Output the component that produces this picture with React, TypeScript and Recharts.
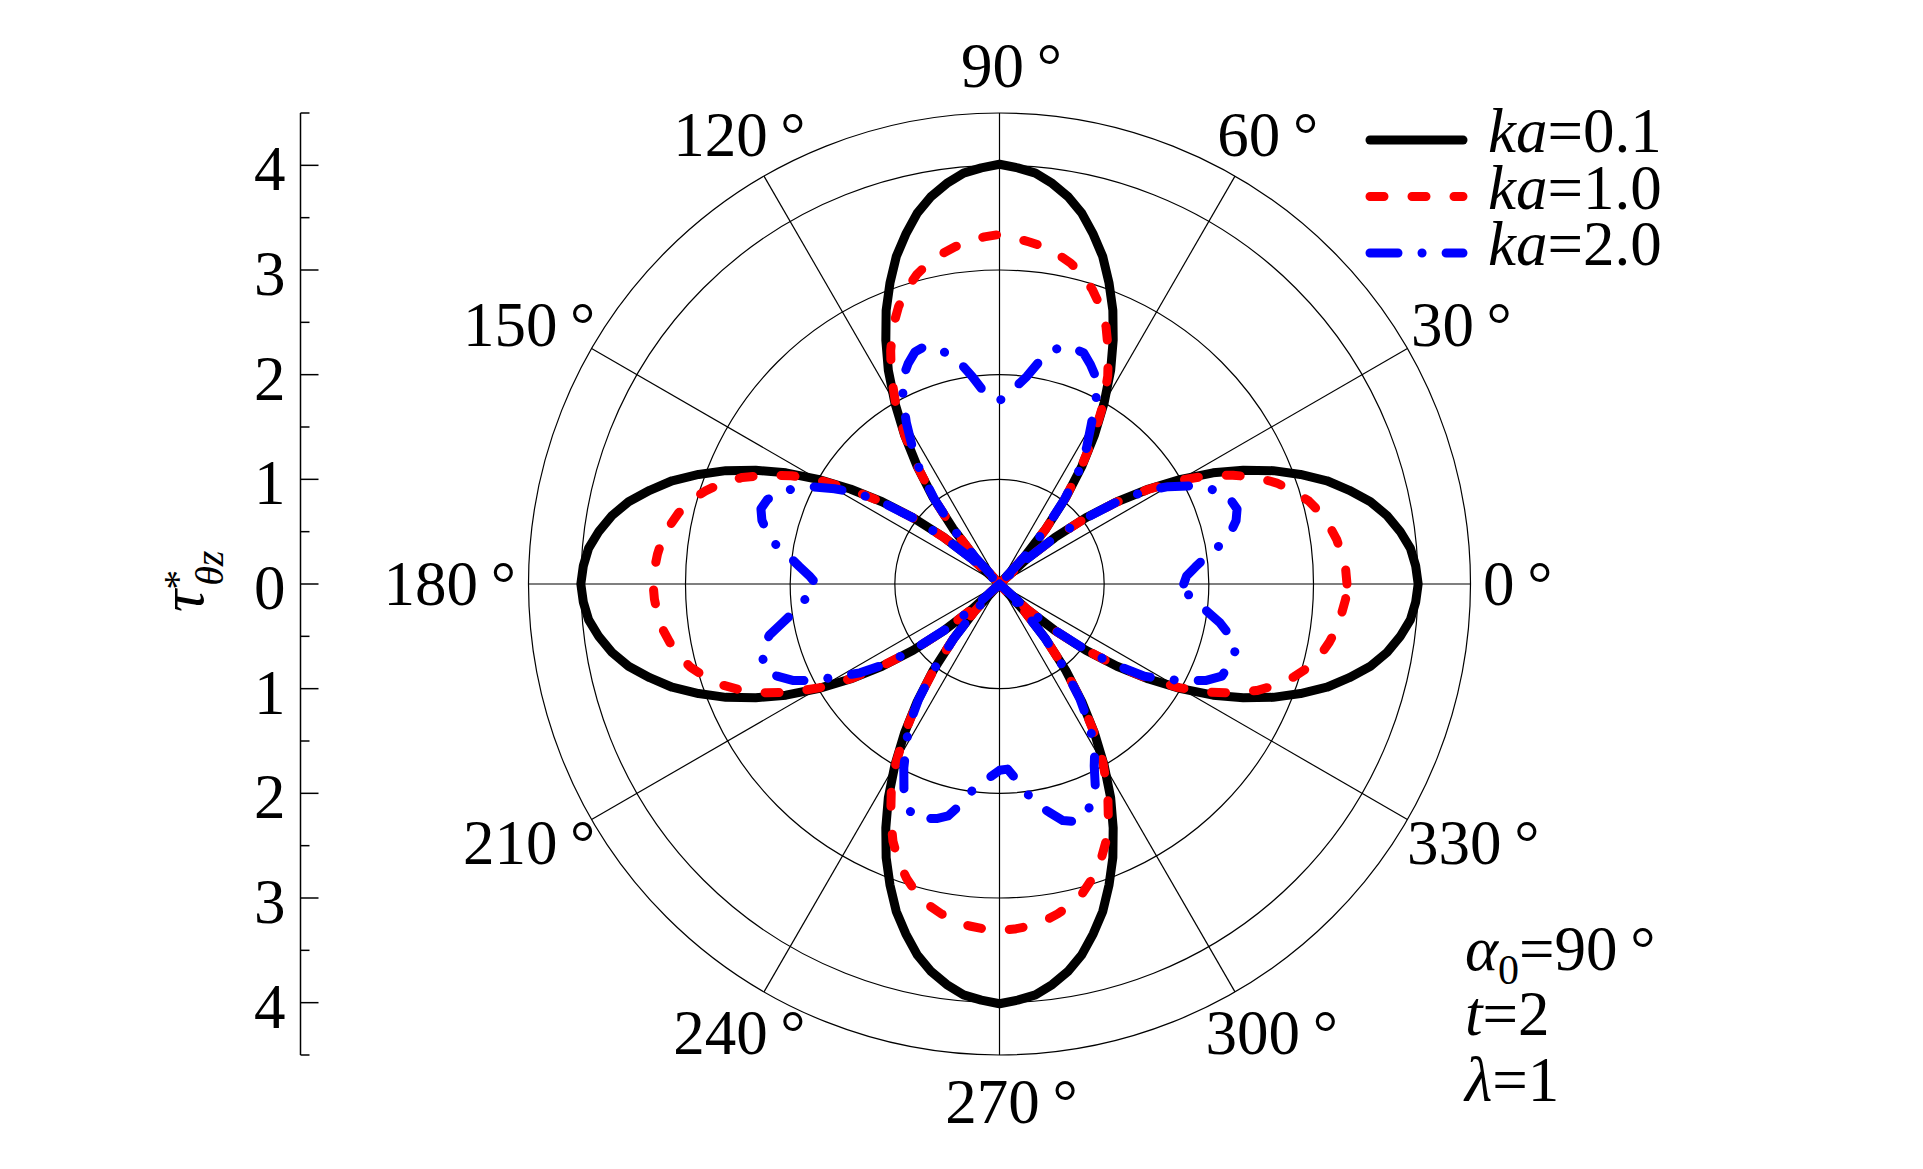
import {
  RadarChart,
  Radar,
  PolarGrid,
  PolarAngleAxis,
  PolarRadiusAxis,
  LineChart,
  Line,
  XAxis,
  YAxis,
  Legend
} from "recharts";

const W = 1923;
const H = 1169;
const CX = 999.5;
const CY = 584;
const R = 471; // radius of the outer circle (4.5)
const RMAX = 4.5;
const DATA_RMAX = 5;
const FONT = '"Liberation Serif", "DejaVu Serif", serif';
const FS = 63;

// angle categories, every 2.5 degrees, counter-clockwise from 0
const angles = Array.from({ length: 144 }, (_, i) => i * 2.5);

// ka = 0.1
const ka01 = [
  4.00, 3.98, 3.94, 3.86, 3.76, 3.63, 3.46, 3.28, 3.06, 2.83, 2.57, 2.30, 2.00, 1.69, 1.37, 1.04, 0.69, 0.35,
  0, 0.35, 0.69, 1.04, 1.37, 1.69, 2.00, 2.30, 2.57, 2.83, 3.06, 3.28, 3.46, 3.63, 3.76, 3.86, 3.94, 3.98,
  4.01, 3.98, 3.94, 3.86, 3.76, 3.63, 3.46, 3.28, 3.06, 2.83, 2.57, 2.30, 2.00, 1.69, 1.37, 1.04, 0.69, 0.35,
  0, 0.35, 0.69, 1.04, 1.37, 1.69, 2.00, 2.30, 2.57, 2.83, 3.06, 3.28, 3.46, 3.63, 3.76, 3.86, 3.94, 3.98,
  4.00, 3.98, 3.94, 3.86, 3.76, 3.63, 3.46, 3.28, 3.06, 2.83, 2.57, 2.30, 2.00, 1.69, 1.37, 1.04, 0.69, 0.35,
  0, 0.35, 0.69, 1.04, 1.37, 1.69, 2.00, 2.30, 2.57, 2.83, 3.06, 3.28, 3.46, 3.63, 3.76, 3.86, 3.94, 3.98,
  4.01, 3.98, 3.94, 3.86, 3.76, 3.63, 3.46, 3.28, 3.06, 2.83, 2.57, 2.30, 2.00, 1.69, 1.37, 1.04, 0.69, 0.35,
  0, 0.35, 0.69, 1.04, 1.37, 1.69, 2.00, 2.30, 2.57, 2.83, 3.06, 3.28, 3.46, 3.63, 3.76, 3.86, 3.94, 3.98
];

// ka = 1.0
const ka10 = [
  3.32, 3.31, 3.28, 3.25, 3.20, 3.14, 3.06, 2.95, 2.82, 2.66, 2.46, 2.24, 1.98, 1.68, 1.36, 1.03, 0.69, 0.35,
  0, 0.35, 0.69, 1.03, 1.36, 1.68, 1.98, 2.24, 2.46, 2.66, 2.82, 2.95, 3.06, 3.14, 3.20, 3.25, 3.28, 3.31,
  3.34, 3.32, 3.29, 3.25, 3.20, 3.14, 3.06, 2.95, 2.82, 2.66, 2.46, 2.24, 1.98, 1.68, 1.36, 1.03, 0.69, 0.35,
  0, 0.35, 0.69, 1.03, 1.36, 1.68, 1.98, 2.24, 2.46, 2.66, 2.82, 2.95, 3.06, 3.14, 3.20, 3.25, 3.28, 3.30,
  3.31, 3.30, 3.28, 3.25, 3.20, 3.14, 3.06, 2.95, 2.82, 2.66, 2.46, 2.24, 1.98, 1.68, 1.36, 1.03, 0.69, 0.35,
  0, 0.35, 0.69, 1.03, 1.36, 1.68, 1.98, 2.24, 2.46, 2.66, 2.82, 2.95, 3.06, 3.14, 3.20, 3.25, 3.28, 3.30,
  3.31, 3.30, 3.28, 3.25, 3.20, 3.14, 3.06, 2.95, 2.82, 2.66, 2.46, 2.24, 1.98, 1.68, 1.36, 1.03, 0.69, 0.35,
  0, 0.35, 0.69, 1.03, 1.36, 1.68, 1.98, 2.24, 2.46, 2.66, 2.82, 2.95, 3.06, 3.14, 3.20, 3.25, 3.28, 3.31
];

// ka = 2.0
const ka20 = [
  1.76, 1.79, 1.88, 1.99, 2.14, 2.26, 2.34, 2.38, 2.35, 2.30, 2.17, 2.03, 1.86, 1.66, 1.36, 1.03, 0.69, 0.35,
  0, 0.34, 0.68, 1.02, 1.33, 1.55, 1.75, 2.00, 2.18, 2.27, 2.35, 2.36, 2.35, 2.28, 2.15, 2.00, 1.90, 1.82,
  1.75, 1.80, 1.86, 2.00, 2.14, 2.25, 2.33, 2.38, 2.36, 2.28, 2.18, 2.00, 1.78, 1.55, 1.33, 1.02, 0.68, 0.34,
  0, 0.34, 0.68, 1.03, 1.35, 1.62, 1.82, 2.01, 2.16, 2.28, 2.36, 2.39, 2.35, 2.27, 2.17, 2.03, 1.92, 1.82,
  1.75, 1.80, 1.88, 1.97, 2.10, 2.25, 2.34, 2.37, 2.39, 2.30, 2.18, 2.00, 1.76, 1.58, 1.34, 1.02, 0.68, 0.34,
  0, 0.34, 0.68, 1.03, 1.35, 1.62, 1.78, 1.98, 2.16, 2.30, 2.38, 2.35, 2.32, 2.27, 2.14, 1.99, 1.90, 1.84,
  1.78, 1.77, 1.88, 2.02, 2.15, 2.24, 2.34, 2.38, 2.37, 2.28, 2.17, 1.96, 1.82, 1.60, 1.34, 1.02, 0.68, 0.34,
  0, 0.34, 0.68, 1.02, 1.34, 1.64, 1.82, 2.00, 2.18, 2.30, 2.32, 2.34, 2.34, 2.25, 2.14, 2.00, 1.88, 1.78
];

const spokeAngles = [0, 30, 60, 90, 120, 150, 180, 210, 240, 270, 300, 330];
const gridRadii = [1, 2, 3, 4, 4.5];
const radialTicks = [-4.5, -4, -3.5, -3, -2.5, -2, -1.5, -1, -0.5, 0, 0.5, 1, 1.5, 2, 2.5, 3, 3.5, 4, 4.5];

const series = [
  { key: "k01", name: "ka=0.1", color: "#000000", dash: undefined },
  { key: "k10", name: "ka=1.0", color: "#ff0000", dash: "14 28" },
  { key: "k20", name: "ka=2.0", color: "#0000ff", dash: "28 24 0.1 24" }
];

const data = angles.map((angle, i) => ({ angle, k01: ka01[i], k10: ka10[i], k20: ka20[i] }));
const axisData = radialTicks.map((v) => ({ v }));

const unit = R / RMAX;

const AngleTick = (props: any) => {
  const a = Number(props.payload?.value);
  if (a % 30 !== 0 || a >= 360) return <g />;
  const rad = (a * Math.PI) / 180;
  const c = Math.cos(rad);
  const s = Math.sin(rad);
  const label = String(a);
  const w = label.length * 31.5 + 33;
  const x = CX + (515 + (w / 2 - 29) * Math.abs(c)) * c + 12 * (1 - Math.abs(c));
  const y = CY - 518 * s;
  return (
    <text x={x} y={y + 21} textAnchor="middle" fontSize={FS} fontFamily={FONT} fill="#000">
      {`${label}\u2009°`}
    </text>
  );
};

const AxisTick = (props: any) => {
  const { x, y, payload } = props;
  const v = Number(payload.value);
  const major = Number.isInteger(v);
  return (
    <g>
      <line x1={x} x2={x + (major ? 18 : 9)} y1={y} y2={y} stroke="#000" strokeWidth={1.5} />
      {major && (
        <text x={x - 15} y={y + 25} textAnchor="end" fontSize={FS} fontFamily={FONT} fill="#000">
          {Math.abs(v)}
        </text>
      )}
    </g>
  );
};

const LegendBox = () => (
  <svg width={340} height={190} style={{ overflow: "visible" }}>
    {series.map((s, i) => {
      const ly = 45 + i * 56.5;
      const [pre, post] = s.name.split("=");
      return (
        <g key={s.key}>
          <line
            x1={18}
            x2={111}
            y1={ly}
            y2={ly}
            stroke={s.color}
            strokeWidth={9}
            strokeLinecap="round"
            strokeDasharray={s.dash}
          />
          <text x={136} y={ly + 12} fontSize={FS} fontFamily={FONT} fill="#000">
            <tspan fontStyle="italic">{pre}</tspan>={post}
          </text>
        </g>
      );
    })}
  </svg>
);

const layer = { position: "absolute" as const, left: 0, top: 0 };

export default function App() {
  return (
    <div style={{ position: "absolute", left: 0, top: 0, width: W, height: H, background: "#fff" }}>
      {/* left linear scale */}
      <div style={layer}>
        <LineChart
          width={420}
          height={H}
          data={axisData}
          margin={{ top: CY - R, bottom: H - (CY + R), left: 0, right: 0 }}
        >
          <XAxis dataKey="v" hide />
          <YAxis
            type="number"
            domain={[-RMAX, RMAX]}
            allowDataOverflow
            ticks={radialTicks}
            interval={0}
            width={300.5}
            tickSize={0}
            tickMargin={0}
            tickLine={false}
            axisLine={{ stroke: "#000", strokeWidth: 1.5 }}
            tick={<AxisTick />}
          />
          <Line dataKey="v" stroke="none" dot={false} isAnimationActive={false} />
        </LineChart>
      </div>
      {/* polar grid and angle labels */}
      <div style={layer}>
        <RadarChart
          width={W}
          height={H}
          cx={CX}
          cy={CY}
          outerRadius={R}
          startAngle={0}
          endAngle={360}
          data={data}
          margin={{ top: 0, right: 0, bottom: 0, left: 0 }}
        >
          <PolarGrid
            gridType="circle"
            polarAngles={spokeAngles}
            polarRadius={gridRadii.map((g) => g * unit)}
            stroke="#000"
            strokeWidth={1.2}
          />
          <PolarAngleAxis
            dataKey="angle"
            type="number"
            domain={[0, 360]}
            tickCount={13}
            tick={<AngleTick />}
            tickLine={false}
            axisLine={false}
          />
        </RadarChart>
      </div>
      {/* curves */}
      <div style={layer}>
        <RadarChart
          width={W}
          height={H}
          cx={CX}
          cy={CY}
          outerRadius={DATA_RMAX * unit}
          startAngle={0}
          endAngle={360}
          data={data}
          margin={{ top: 0, right: 0, bottom: 0, left: 0 }}
        >
          <PolarAngleAxis dataKey="angle" type="number" domain={[0, 360]} tick={false} tickLine={false} axisLine={false} />
          <PolarRadiusAxis
            type="number"
            domain={[0, DATA_RMAX]}
            tickCount={6}
            allowDataOverflow
            tick={false}
            axisLine={false}
          />
          {series.map((s) => (
            <Radar
              key={s.key}
              name={s.name}
              dataKey={s.key}
              stroke={s.color}
              strokeWidth={9}
              strokeLinecap="round"
              strokeLinejoin="round"
              strokeDasharray={s.dash}
              fill="none"
              fillOpacity={0}
              dot={false}
              isAnimationActive={false}
            />
          ))}
          <Legend content={<LegendBox />} wrapperStyle={{ left: 1352, top: 95, width: 340 }} />
        </RadarChart>
      </div>
      <svg
        width={W}
        height={H}
        style={{ position: "absolute", left: 0, top: 0, pointerEvents: "none" }}
        fontFamily={FONT}
      >
        <text transform="rotate(-90)" x={-612} y={203} fontSize={62} fill="#000">
          <tspan fontStyle="italic">τ</tspan>
          <tspan fontSize={40} dy={-12}>*</tspan>
          <tspan fontSize={40} fontStyle="italic" dx={-16} dy={32}>θz</tspan>
        </text>
        <text x={1465} y={970} fontSize={FS} fill="#000">
          <tspan fontStyle="italic">α</tspan>
          <tspan fontSize={42} dy={14}>0</tspan>
          <tspan dy={-14}>{"=90\u2009°"}</tspan>
        </text>
        <text x={1465} y={1035} fontSize={FS} fill="#000">
          <tspan fontStyle="italic">t</tspan>=2
        </text>
        <text x={1465} y={1101} fontSize={FS} fill="#000">
          <tspan fontStyle="italic">λ</tspan>=1
        </text>
      </svg>
    </div>
  );
}
